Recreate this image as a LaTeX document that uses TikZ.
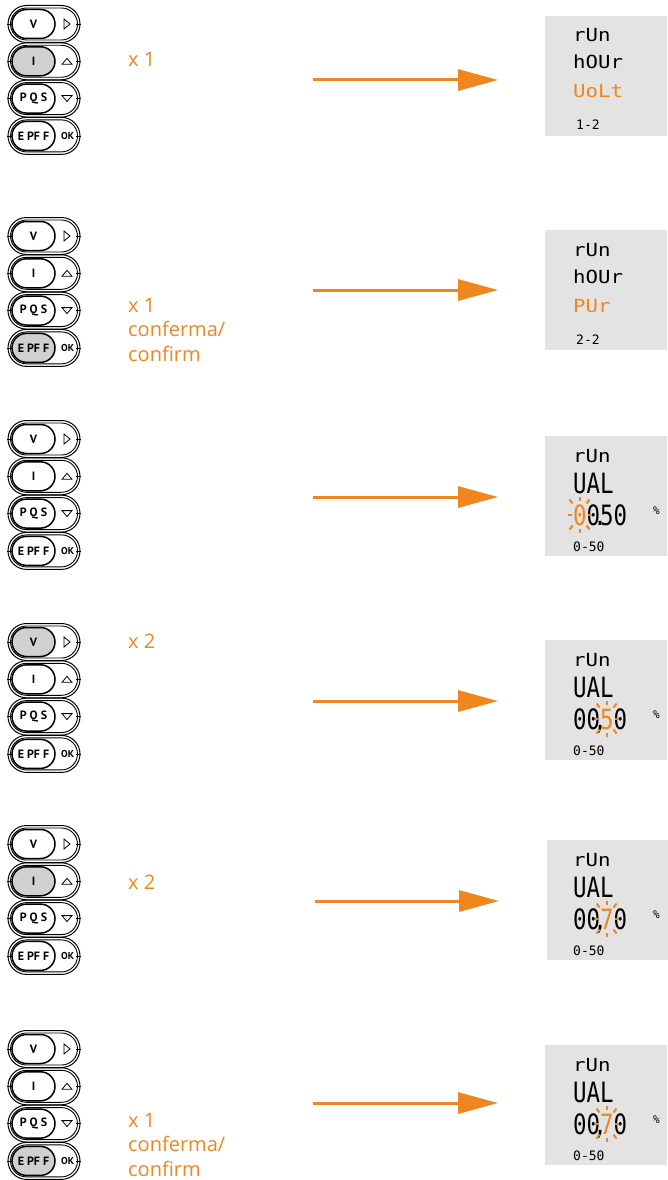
\documentclass[tikz,border=0pt]{standalone}
\usepackage{fontspec}
\usepackage{graphicx}
\setmainfont{Open Sans}
\newfontfamily\keyfont{PT Sans}
\newfontfamily\segfont{DejaVu Sans Mono}
\usetikzlibrary{arrows.meta}
\definecolor{orng}{RGB}{240,134,30}
\definecolor{lcdgray}{RGB}{227,227,227}
\definecolor{keyfill}{RGB}{208,208,208}
\tikzset{
  capout/.style={draw=black,line width=1pt,rounded corners=18.5pt},
  capin/.style={draw=black,line width=0.9pt,rounded corners=16pt},
  keybox/.style={draw=black,line width=1.5pt,rounded corners=14.5pt,minimum width=43pt,minimum height=29pt,inner sep=0pt,font=\keyfont\bfseries\fontsize{12}{12}\selectfont},
  tick/.style={draw=black,line width=0.7pt},
  sym/.style={draw=black,line width=0.8pt,line join=miter},
  oklabel/.style={inner sep=0pt,font=\keyfont\bfseries\fontsize{10}{10}\selectfont},
  lbl/.style={inner sep=0pt,text=orng,font=\fontsize{20}{24.5}\selectfont,align=left},
  lcdbox/.style={fill=lcdgray,draw=none,minimum width=122pt,minimum height=120pt,inner sep=0pt,anchor=north west},
  segtxt/.style={inner sep=0pt,anchor=base west},
  arr/.style={draw=orng,line width=3pt,-{Triangle[length=40pt,width=21pt]}},
  ray/.style={draw=orng,line width=2pt}
}
\newcommand\wordsm[1]{\scalebox{1.15}[1]{\segfont\fontsize{18}{18}\selectfont #1}}
\newcommand\wordbig[1]{\scalebox{0.8}[1]{\segfont\fontsize{28}{28}\selectfont #1}}
\newcommand\wordtiny[1]{{\segfont\fontsize{13}{13}\selectfont #1}}
\newcommand\pct{{\segfont\fontsize{11}{11}\selectfont\%}}
\newcommand\zdot[1]{\makebox[0pt][c]{#1}}
% symbols
\newcommand\symright[1]{\draw[sym] (64,{#1-5}) -- (70,{#1}) -- (64,{#1+5}) -- cycle;}
\newcommand\symup[1]{\draw[sym] (62,{#1+3}) -- (67,{#1-3}) -- (72,{#1+3}) -- cycle;}
\newcommand\symdown[1]{\draw[sym] (62,{#1-3}) -- (67,{#1+3}) -- (72,{#1-3}) -- cycle;}
% one button: name, cy, label, symbol macro, key fill
\newcommand\mybtn[5]{%
  \draw[capout] (8,{#2-18.5}) rectangle (80,{#2+18.5});
  \draw[capin] (10.5,{#2-16}) rectangle (77.5,{#2+16});
  \draw[tick] (7,{#2}) -- (12,{#2});
  \draw[tick] (76,{#2}) -- (81,{#2});
  \node[keybox,fill=#5] (#1) at (33.5,{#2}) {#3};
  #4{#2}
}
\newcommand\okmark[1]{\node[oklabel] at (67.5,{#1}) {OK};}
% panel: prefix, first cy, fills
\newcommand\panel[6]{%
  \pgfmathsetmacro\cya{#2}%
  \pgfmathsetmacro\cyb{#2+37.3}%
  \pgfmathsetmacro\cyc{#2+74.6}%
  \pgfmathsetmacro\cyd{#2+111.9}%
  \mybtn{#1v}{\cya}{V}{\symright}{#3}
  \mybtn{#1i}{\cyb}{I}{\symup}{#4}
  \mybtn{#1p}{\cyc}{P Q S}{\symdown}{#5}
  \mybtn{#1e}{\cyd}{E PF F}{\okmark}{#6}
}
\newcommand\blink[2]{%
  \begin{scope}[shift={(#1,#2)}]
    \draw[ray] (0,-14) -- (0,-18);
    \draw[ray] (0,14) -- (0,18);
    \draw[ray] (-8,0) -- (-12,0);
    \draw[ray] (8,0) -- (12,0);
    \draw[ray] (-7,-11) -- (-10,-15);
    \draw[ray] (7,-11) -- (10,-15);
    \draw[ray] (-7,11) -- (-10,15);
    \draw[ray] (7,11) -- (10,15);
  \end{scope}
}
\begin{document}
\begin{tikzpicture}[x=1pt,y=-1pt]
\useasboundingbox (0,0) rectangle (667,1180);
\fill[white] (0,0) rectangle (667,1180);

% ---------- button panels ----------
\panel{pa}{24}{white}{keyfill}{white}{white}
\panel{pb}{236}{white}{white}{white}{keyfill}
\panel{pc}{439}{white}{white}{white}{white}
\panel{pd}{642}{keyfill}{white}{white}{white}
\panel{pe}{844}{white}{keyfill}{white}{white}
\panel{pf}{1049}{white}{white}{white}{keyfill}

% ---------- labels ----------
\node[lbl,anchor=base west] (la) at (128,67) {x 1};
\node[lbl,anchor=north west] (lb) at (128,298) {x 1\\conferma/\\confirm};
\node[lbl,anchor=base west] (ld) at (128,648) {x 2};
\node[lbl,anchor=base west] (le) at (128,889) {x 2};
\node[lbl,anchor=north west] (lf) at (128,1113) {x 1\\conferma/\\confirm};

% ---------- displays ----------
% D1
\node[lcdbox] (da) at (545,16) {};
\node[segtxt] (da1) at (573,42) {\wordsm{rUn}};
\node[segtxt] (da2) at (573,69) {\wordsm{hOUr}};
\node[segtxt,text=orng] (da3) at (573,98) {\wordsm{UoLt}};
\node[segtxt] (da4) at (576,130) {\wordtiny{1-2}};
% D2
\node[lcdbox] (db) at (545,230) {};
\node[segtxt] (db1) at (573,256) {\wordsm{rUn}};
\node[segtxt] (db2) at (573,283) {\wordsm{hOUr}};
\node[segtxt,text=orng] (db3) at (573,312) {\wordsm{PUr}};
\node[segtxt] (db4) at (576,344) {\wordtiny{2-2}};
% D3
\node[lcdbox] (dc) at (545,436) {};
\node[segtxt] (dc1) at (573,462) {\wordsm{rUn}};
\node[segtxt] (dc2) at (573,493) {\wordbig{UAL}};
\node[segtxt] (dc3) at (573,525) {\wordbig{{\color{orng}0}0\zdot{.}50}};
\node[segtxt] (dc4) at (653,514) {\pct};
\node[segtxt] (dc5) at (573,551) {\wordtiny{0-50}};
\blink{579.5}{514.5}
% D4
\node[lcdbox] (dd) at (545,640) {};
\node[segtxt] (dd1) at (573,666) {\wordsm{rUn}};
\node[segtxt] (dd2) at (573,697) {\wordbig{UAL}};
\node[segtxt] (dd3) at (573,729) {\wordbig{00\zdot{,}{\color{orng}5}0}};
\node[segtxt] (dd4) at (653,718) {\pct};
\node[segtxt] (dd5) at (573,755) {\wordtiny{0-50}};
\blink{606.5}{718.5}
% D5
\node[lcdbox] (de) at (547,840) {};
\node[segtxt] (de1) at (573,866) {\wordsm{rUn}};
\node[segtxt] (de2) at (573,897) {\wordbig{UAL}};
\node[segtxt] (de3) at (573,929) {\wordbig{00\zdot{,}{\color{orng}7}0}};
\node[segtxt] (de4) at (653,918) {\pct};
\node[segtxt] (de5) at (573,955) {\wordtiny{0-50}};
\blink{606.5}{918.5}
% D6
\node[lcdbox] (df) at (545,1045) {};
\node[segtxt] (df1) at (573,1071) {\wordsm{rUn}};
\node[segtxt] (df2) at (573,1102) {\wordbig{UAL}};
\node[segtxt] (df3) at (573,1134) {\wordbig{00\zdot{,}{\color{orng}7}0}};
\node[segtxt] (df4) at (653,1123) {\pct};
\node[segtxt] (df5) at (573,1160) {\wordtiny{0-50}};
\blink{606.5}{1123.5}

% ---------- arrows ----------
\coordinate (sa) at (313,80);   \coordinate (ea) at (498,80);
\coordinate (sb) at (313,290);  \coordinate (eb) at (498,290);
\coordinate (sc) at (313,497);  \coordinate (ec) at (498,497);
\coordinate (sd) at (313,701);  \coordinate (ed) at (498,701);
\coordinate (se) at (315,901);  \coordinate (ee) at (499,901);
\coordinate (sf) at (313,1103); \coordinate (ef) at (498,1103);
\draw[arr] (sa) -- (ea);
\draw[arr] (sb) -- (eb);
\draw[arr] (sc) -- (ec);
\draw[arr] (sd) -- (ed);
\draw[arr] (se) -- (ee);
\draw[arr] (sf) -- (ef);
\end{tikzpicture}
\end{document}
